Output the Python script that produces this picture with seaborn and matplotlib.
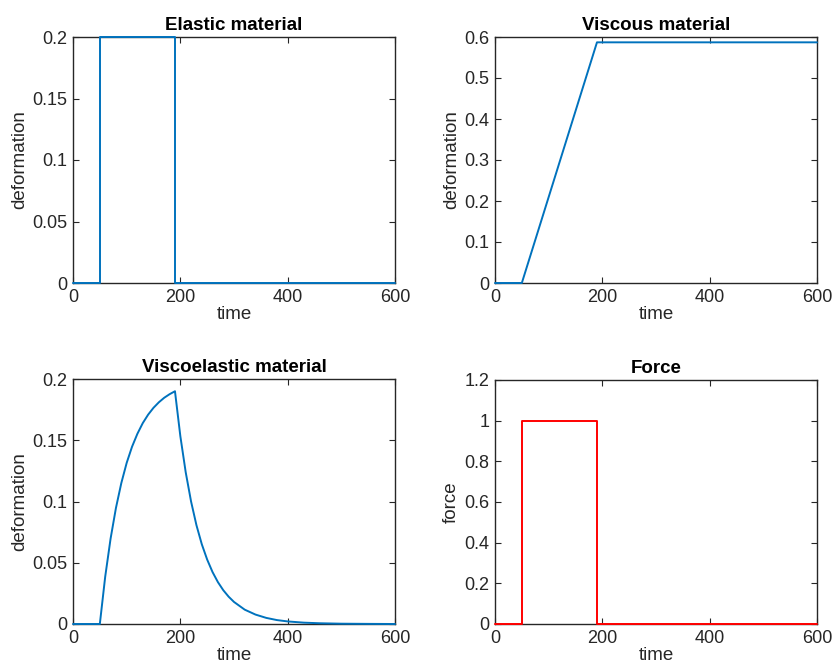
import numpy as np
import pandas as pd
import matplotlib
matplotlib.use("Agg")
import matplotlib.pyplot as plt
import seaborn as sns

# ---- data ----
elastic_t = [0, 50, 50, 190, 190, 600]
elastic_y = [0, 0, 0.2, 0.2, 0, 0]

viscous_t = [0, 50, 190, 600]
viscous_y = [0, 0, 0.587, 0.587]

visco_t = [0, 50, 60, 70, 80, 90, 100, 110, 120, 130, 140, 150, 160, 170, 180, 190,
           200, 210, 220, 230, 240, 250, 260, 270, 280, 290, 300, 320, 340, 360,
           380, 400, 430, 460, 500, 550, 600]
visco_y = [0, 0, 0.0386, 0.0696, 0.0947, 0.115, 0.1315, 0.1447, 0.1553, 0.164,
           0.1709, 0.1765, 0.181, 0.1847, 0.1876, 0.190,
           0.1534, 0.1239, 0.1000, 0.0807, 0.0651, 0.0526, 0.0424, 0.0342, 0.0276,
           0.0223, 0.0180, 0.0117, 0.0077, 0.0050, 0.0032, 0.0021, 0.0011, 0.0006,
           0.00025, 0.0001, 0.0]

force_t = [0, 50, 50, 190, 190, 600]
force_y = [0, 0, 1, 1, 0, 0]

titles = ["Elastic material", "Viscous material", "Viscoelastic material", "Force"]
ylabels = ["deformation", "deformation", "deformation", "force"]
xticks = [0, 200, 400, 600]
yticks_list = [[0, 0.05, 0.1, 0.15, 0.2],
               [0, 0.1, 0.2, 0.3, 0.4, 0.5, 0.6],
               [0, 0.05, 0.1, 0.15, 0.2],
               [0, 0.2, 0.4, 0.6, 0.8, 1.0, 1.2]]
ytick_labels = [["0", "0.05", "0.1", "0.15", "0.2"],
                ["0", "0.1", "0.2", "0.3", "0.4", "0.5", "0.6"],
                ["0", "0.05", "0.1", "0.15", "0.2"],
                ["0", "0.2", "0.4", "0.6", "0.8", "1", "1.2"]]
ylims = [(0, 0.2), (0, 0.6), (0, 0.2), (0, 1.2)]

sns.set_theme(style="white")
plt.rcParams['font.family'] = ['Liberation Sans', 'DejaVu Sans']

fig = plt.figure(figsize=(8.32, 6.64), dpi=100)
W, H = 832, 664
boxes = [(73, 37, 395, 283), (495, 37, 817, 283), (73, 379, 395, 624), (495, 380, 817, 624)]
series = [(elastic_t, elastic_y, "#0072BD"), (viscous_t, viscous_y, "#0072BD"),
          (visco_t, visco_y, "#0072BD"), (force_t, force_y, "#FF0000")]

dark = "#262626"
for i, (x0, y0, x1, y1) in enumerate(boxes):
    ax = fig.add_axes([x0 / W, 1 - y1 / H, (x1 - x0) / W, (y1 - y0) / H])
    t, y, c = series[i]
    df = pd.DataFrame({"time": t, "val": y})
    sns.lineplot(data=df, x="time", y="val", ax=ax, color=c, linewidth=1.4,
                 sort=False, estimator=None, clip_on=False, zorder=5)
    ax.set_xlim(0, 600)
    ax.set_ylim(*ylims[i])
    ax.set_xticks(xticks)
    ax.set_xticklabels([str(v) for v in xticks])
    ax.set_yticks(yticks_list[i])
    ax.set_yticklabels(ytick_labels[i])
    ax.tick_params(direction="in", length=4, width=0.8, colors=dark, labelsize=13,
                   top=True, right=True, bottom=True, left=True, pad=4)
    for s in ax.spines.values():
        s.set_visible(True)
        s.set_color(dark)
        s.set_linewidth(1.0)
    ax.set_xlabel("time", fontsize=13.5, color=dark, labelpad=0)
    ax.set_ylabel(ylabels[i], fontsize=13.5, color=dark, labelpad=3)
    ax.set_title(titles[i], fontsize=13.5, fontweight="bold", color="black", pad=5)
    ax.grid(False)

fig.savefig("out.png", dpi=100, facecolor="white")
